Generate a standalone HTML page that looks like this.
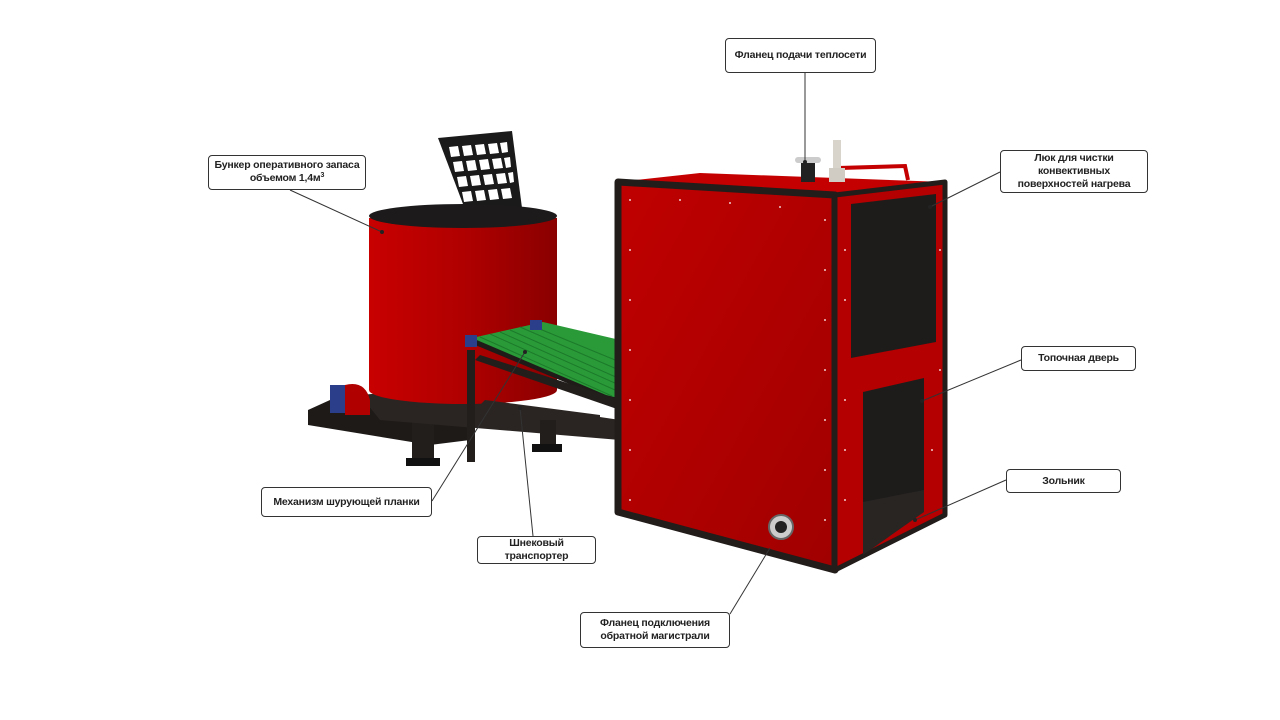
<!DOCTYPE html>
<html><head><meta charset="utf-8"><style>
html,body{margin:0;padding:0;background:#fff;}
.lb{position:absolute;border:1.5px solid #333;border-radius:4px;background:#fff;font:bold 10.5px "Liberation Sans",sans-serif;letter-spacing:-0.2px;color:#222;text-align:center;display:flex;align-items:center;justify-content:center;line-height:13px;box-sizing:border-box;white-space:nowrap;}
</style></head><body>
<div style="position:relative;width:1280px;height:720px;overflow:hidden;">
<svg width="1280" height="720" style="position:absolute;left:0;top:0">
<defs>
<linearGradient id="cyl" x1="0" x2="1"><stop offset="0" stop-color="#c80000"/><stop offset="0.5" stop-color="#b00000"/><stop offset="1" stop-color="#8a0000"/></linearGradient>
<linearGradient id="fr" x1="0" x2="1" y1="0" y2="1"><stop offset="0" stop-color="#c00000"/><stop offset="1" stop-color="#a00000"/></linearGradient>
</defs>
<polygon points="308,410 330,400 470,420 470,440 430,445 308,425" fill="#1e1a18"/>
<rect x="412" y="420" width="22" height="42" fill="#221e1c"/><rect x="406" y="458" width="34" height="8" fill="#111"/>
<polygon points="360,395 420,390 620,420 620,440 380,420" fill="#2a2523"/>
<rect x="540" y="420" width="16" height="28" fill="#221e1c"/><rect x="532" y="444" width="30" height="8" fill="#111"/>
<rect x="330" y="385" width="18" height="28" fill="#2b3e8a"/>
<path d="M345 385 q20 -5 25 15 l0 15 l-25 0z" fill="#b00000"/>
<!-- grate -->
<polygon points="438,138 512,131 522,208 466,212" fill="#1a1a1a"/>
<g fill="#fff">
<polygon points="449,147 458,146 460,156 451,157"/><polygon points="462,146 471,145 473,155 464,156"/><polygon points="475,145 484,144 486,154 477,155"/><polygon points="488,144 497,143 499,153 490,154"/><polygon points="500,143 507,142 508,152 502,153"/>
<polygon points="453,162 462,161 464,171 455,172"/><polygon points="466,161 475,160 477,170 468,171"/><polygon points="479,160 488,159 490,169 481,170"/><polygon points="492,159 501,158 503,168 494,169"/><polygon points="504,158 510,157 511,167 506,168"/>
<polygon points="457,177 466,176 468,186 459,187"/><polygon points="470,176 479,175 481,185 472,186"/><polygon points="483,175 492,174 494,184 485,185"/><polygon points="496,174 505,173 507,183 498,184"/><polygon points="508,173 513,172 514,182 510,183"/>
<polygon points="462,192 471,191 473,201 464,202"/><polygon points="475,191 484,190 486,200 477,201"/><polygon points="488,190 497,189 499,199 490,200"/><polygon points="501,189 510,188 512,198 503,199"/>
</g>
<path d="M369 218 L369 390 A94 14 0 0 0 557 390 L557 218 Z" fill="url(#cyl)"/>
<ellipse cx="463" cy="216" rx="94" ry="12" fill="#1c1a1a"/>
<polygon points="468,342 545,325 620,345 620,405 608,400" fill="#1e1b19"/>
<polygon points="472,338 543,322 620,340 618,398 606,395" fill="#2a9a38"/>
<g stroke="#1c7a2a" stroke-width="1"><line x1="480" y1="337" x2="612" y2="396"/><line x1="490" y1="334" x2="615" y2="390"/><line x1="500" y1="332" x2="617" y2="384"/><line x1="510" y1="330" x2="618" y2="378"/><line x1="520" y1="327" x2="619" y2="370"/><line x1="530" y1="325" x2="620" y2="362"/></g>
<rect x="465" y="335" width="12" height="12" fill="#2b3e8a"/><rect x="530" y="320" width="12" height="10" fill="#2b3e8a"/>
<rect x="467" y="350" width="8" height="112" fill="#221e1c"/>
<polygon points="475,360 480,355 620,400 620,410" fill="#221e1c"/>
<polygon points="475,410 485,400 600,415 600,425" fill="#2a2523"/>
<polygon points="618,182 700,173 945,182 835,195" fill="#c40000"/>
<polygon points="618,182 835,195 835,570 618,512" fill="url(#fr)" stroke="#221c1a" stroke-width="7" stroke-linejoin="round"/>
<polygon points="835,195 945,182 945,515 835,570" fill="#b40000" stroke="#221c1a" stroke-width="5" stroke-linejoin="round"/>
<polygon points="851,204 936,194 936,342 851,358" fill="#1e1c1b"/>
<polygon points="863,392 924,378 924,500 863,525" fill="#1e1c1b"/>
<polygon points="863,502 924,490 924,512 863,555" fill="#282523"/>
<path d="M840 180 L840 168 L905 166 L908 180" fill="none" stroke="#c40000" stroke-width="4"/>
<rect x="801" y="162" width="14" height="20" fill="#222"/><rect x="795" y="157" width="26" height="6" rx="3" fill="#ccc"/>
<rect x="833" y="140" width="8" height="42" fill="#d8d4cc"/><rect x="829" y="168" width="16" height="14" fill="#d0ccc4"/>
<circle cx="781" cy="527" r="12" fill="#ccc" stroke="#666" stroke-width="2"/><circle cx="781" cy="527" r="6" fill="#222"/>
<g fill="#fff" opacity="0.8">
<circle cx="630" cy="200" r="1"/><circle cx="630" cy="250" r="1"/><circle cx="630" cy="300" r="1"/><circle cx="630" cy="350" r="1"/><circle cx="630" cy="400" r="1"/><circle cx="630" cy="450" r="1"/><circle cx="630" cy="500" r="1"/>
<circle cx="825" cy="220" r="1"/><circle cx="825" cy="270" r="1"/><circle cx="825" cy="320" r="1"/><circle cx="825" cy="370" r="1"/><circle cx="825" cy="420" r="1"/><circle cx="825" cy="470" r="1"/><circle cx="825" cy="520" r="1"/>
<circle cx="680" cy="200" r="1"/><circle cx="730" cy="203" r="1"/><circle cx="780" cy="207" r="1"/>
<circle cx="845" cy="250" r="1"/><circle cx="845" cy="300" r="1"/><circle cx="845" cy="400" r="1"/><circle cx="845" cy="450" r="1"/><circle cx="845" cy="500" r="1"/><circle cx="940" cy="250" r="1"/><circle cx="940" cy="370" r="1"/><circle cx="932" cy="450" r="1"/>
</g>
<g stroke="#333" stroke-width="1" fill="none">
<line x1="805" y1="73" x2="805" y2="162"/>
<line x1="290" y1="190" x2="382" y2="232"/>
<line x1="1000" y1="172" x2="930" y2="207"/>
<line x1="1021" y1="360" x2="922" y2="401"/>
<line x1="1006" y1="480" x2="915" y2="520"/>
<line x1="432" y1="501" x2="525" y2="352"/>
<line x1="533" y1="536" x2="520" y2="408"/>
<line x1="730" y1="614" x2="770" y2="548"/>
</g>
<g fill="#222"><circle cx="382" cy="232" r="2"/><circle cx="525" cy="352" r="2"/><circle cx="520" cy="408" r="2"/><circle cx="930" cy="207" r="2"/><circle cx="922" cy="401" r="2"/><circle cx="915" cy="520" r="2"/><circle cx="805" cy="162" r="2"/></g>
</svg>
<div class="lb" style="left:725px;top:38px;width:151px;height:35px">Фланец подачи теплосети</div>
<div class="lb" style="left:208px;top:155px;width:158px;height:35px;display:block;padding-top:3px">Бункер оперативного запаса<br>объемом 1,4м<sup style="font-size:7px;vertical-align:top;line-height:8px">3</sup></div>
<div class="lb" style="left:1000px;top:150px;width:148px;height:43px">Люк для чистки<br>конвективных<br>поверхностей нагрева</div>
<div class="lb" style="left:1021px;top:346px;width:115px;height:25px">Топочная дверь</div>
<div class="lb" style="left:1006px;top:469px;width:115px;height:24px">Зольник</div>
<div class="lb" style="left:261px;top:487px;width:171px;height:30px">Механизм шурующей планки</div>
<div class="lb" style="left:477px;top:536px;width:119px;height:28px">Шнековый<br>транспортер</div>
<div class="lb" style="left:580px;top:612px;width:150px;height:36px">Фланец подключения<br>обратной магистрали</div>
</div>
</body></html>
